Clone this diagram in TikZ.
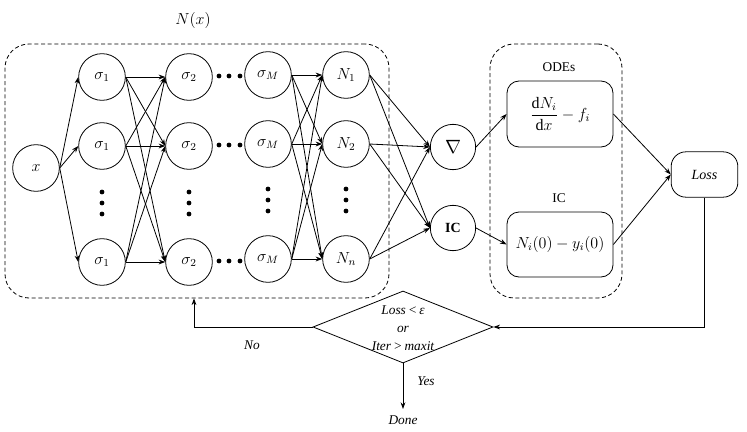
\documentclass[tikz,border=0pt]{standalone}
\usepackage{fontspec}
\setmainfont{Liberation Serif}
\usetikzlibrary{arrows.meta,shapes.geometric}
\begin{document}
\begin{tikzpicture}[x=0.75pt,y=-0.75pt,
  neuron/.style={circle,draw,line width=0.6pt,minimum size=35pt,inner sep=0pt,font=\fontsize{12}{14}\selectfont},
  arr/.style={-{Stealth[length=5pt,width=3.6pt]},line width=0.6pt},
  dbox/.style={draw,dash pattern=on 3pt off 2pt,rounded corners=18pt,line width=0.6pt,inner sep=0pt},
  rbox/.style={draw,rounded corners=9pt,line width=0.6pt,inner sep=0pt},
  bigdot/.style={circle,fill,inner sep=0pt,minimum size=3.6pt},
  lbl/.style={font=\fontsize{10}{12}\selectfont},
  ilbl/.style={font=\fontsize{10}{12}\selectfont\itshape}]
\useasboundingbox (0,0) rectangle (747,432);

% dashed groups
\node[dbox,minimum width=288pt,minimum height=190.5pt] (nn) at (197,171) {};
\node[dbox,minimum width=99pt,minimum height=190.5pt] (grp) at (556,171) {};
\node[font=\fontsize{11.5}{13}\selectfont] (nxl) at (193,21) {$N(x)$};

% input
\node[neuron] (x) at (36,168) {$x$};

% layer 1
\node[neuron] (a1) at (102,77) {$\sigma_1$};
\node[neuron] (a2) at (102,146) {$\sigma_1$};
\node[neuron] (a3) at (102,262) {$\sigma_1$};
% layer 2
\node[neuron] (b1) at (189,77) {$\sigma_2$};
\node[neuron] (b2) at (189,146) {$\sigma_2$};
\node[neuron] (b3) at (189,262) {$\sigma_2$};
% layer M
\node[neuron] (m1) at (268,75) {$\sigma_M$};
\node[neuron] (m2) at (268,144) {$\sigma_M$};
\node[neuron] (m3) at (268,259) {$\sigma_M$};
% outputs
\node[neuron] (n1) at (346,75) {$N_1$};
\node[neuron] (n2) at (346,144) {$N_2$};
\node[neuron] (n3) at (346,259) {$N_n$};

% vertical dots
\foreach \cx/\off in {102/0,189/0,268/-3,346/-3}{
  \foreach \cy in {192,203,214}{
    \node[bigdot] at (\cx,\cy+\off) {};
  }
}
% horizontal dots
\foreach \cy in {77,146,262}{
  \foreach \cx in {219,229,240}{
    \node[bigdot] at (\cx,\cy-1) {};
  }
}

% gradient and IC nodes
\node[neuron,minimum size=34pt] (grad) at (453,147) {\Large$\nabla$};
\node[neuron,minimum size=34pt,font=\fontsize{10.5}{12}\selectfont] (ic) at (453,228) {\textbf{IC}};

% boxes
\node[lbl] (odel) at (559,67) {ODEs};
\node[rbox,minimum width=79.5pt,minimum height=49.5pt] (ode) at (560,114)
  {\fontsize{12}{14}\selectfont$\displaystyle\frac{\mathrm{d}N_i}{\mathrm{d}x}-f_i$};
\node[lbl] (icl) at (559,198) {IC};
\node[rbox,minimum width=79.5pt,minimum height=48.75pt] (icb) at (560,244.5)
  {\fontsize{12}{14}\selectfont$N_i(0)-y_i(0)$};
\node[rbox,rounded corners=11pt,minimum width=50pt,minimum height=34pt] (loss) at (704.5,174.5)
  {\fontsize{10.5}{13}\selectfont\itshape Loss};

% decision
\node[diamond,draw,line width=0.6pt,minimum width=135pt,minimum height=54pt,inner sep=0pt] (dec) at (403,327) {};
\node[font=\fontsize{10}{13.5}\selectfont\itshape,align=center] (dtext) at (403,328)
  {Loss\,<\,ε\\or\\Iter\,>\,maxit};
\node[ilbl] (nol) at (252,345) {No};
\node[ilbl] (yesl) at (426,381) {Yes};
\node[ilbl] (done) at (403,420) {Done};
\coordinate (doneend) at (403,409);
\coordinate (nocorner) at (194,327);
\coordinate (losscorner) at (704.5,327);

% connections
\foreach \t in {a1,a2,a3} \draw[arr] (x.east) -- (\t.west);
\foreach \s in {a1,a2,a3} \foreach \t in {b1,b2,b3} \draw[arr] (\s.east) -- (\t.west);
\foreach \s in {m1,m2,m3} \foreach \t in {n1,n2,n3} \draw[arr] (\s.east) -- (\t.west);
\foreach \s in {n1,n2,n3} \foreach \t in {grad,ic} \draw[arr] (\s.east) -- (\t.west);
\draw[arr] (grad.east) -- (ode.west);
\draw[arr] (ic.east) -- (icb.west);
\draw[arr] (ode.east) -- (loss.west);
\draw[arr] (icb.east) -- (loss.west);
\draw[arr] (loss.south) -- (losscorner) -- (dec.east);
\draw[arr] (dec.west) -- (nocorner) -- (nocorner |- nn.south);
\draw[arr] (dec.south) -- (doneend);
\end{tikzpicture}
\end{document}
